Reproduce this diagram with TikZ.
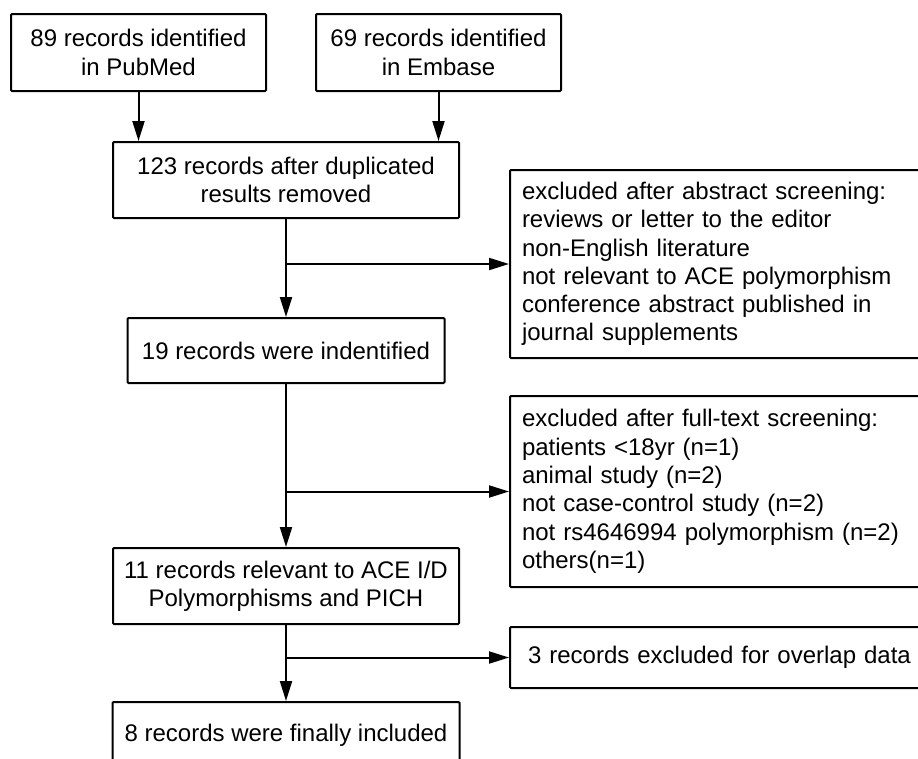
\documentclass[tikz,border=0pt]{standalone}
\usepackage{fontspec}
\setmainfont{Liberation Sans}
\usetikzlibrary{arrows.meta}
\begin{document}
\begin{tikzpicture}[x=1pt,y=-1pt,
  every node/.style={font=\fontsize{24}{28.3}\selectfont},
  cbox/.style={draw, line width=2pt, rounded corners=1pt, align=center, inner sep=0pt},
  lbox/.style={draw, line width=2pt, rounded corners=1pt, align=left, anchor=west,
    inner xsep=12pt, inner ysep=0pt, text width=396pt, minimum width=420pt},
  conn/.style={line width=2pt},
  arr/.style={line width=2pt, -{Triangle[length=20pt,width=12pt]}}]
\clip (0,0) rectangle (918,758);
\node[cbox, minimum width=255pt, minimum height=77pt] (pub) at (138.5,52.5)
  {89 records identified\\in PubMed};
\node[cbox, minimum width=245pt, minimum height=77pt] (emb) at (438.5,52.5)
  {69 records identified\\in Embase};
\node[cbox, minimum width=346pt, minimum height=76pt] (dup) at (286,180)
  {123 records after duplicated\\results removed};
\node[lbox, minimum height=188pt] (abs) at (509,264)
  {excluded after abstract screening:\\reviews or letter to the editor\\non-English literature\\not relevant to ACE polymorphism\\conference abstract published in\\journal supplements};
\node[cbox, minimum width=317pt, minimum height=65pt] (n19) at (286,350.5)
  {19 records were indentified};
\node[lbox, minimum height=191pt] (full) at (509,491.5)
  {excluded after full-text screening:\\patients <18yr (n=1)\\animal study (n=2)\\not case-control study (n=2)\\not rs4646994 polymorphism (n=2)\\others(n=1)};
\node[lbox, minimum height=61pt, inner xsep=18pt, text width=430pt] (ovl) at (509,657.5)
  {3 records excluded for overlap data};
\node[cbox, minimum width=346pt, minimum height=76pt] (n11) at (286,586)
  {11 records relevant to ACE I/D\\Polymorphisms and PICH};
\node[cbox, minimum width=347pt, minimum height=66pt] (n8) at (286,735)
  {8 records were finally included};
\draw[arr] (pub.south) -- (pub.south |- dup.north);
\draw[arr] (emb.south) -- (emb.south |- dup.north);
\draw[arr] (dup.south) -- (n19.north);
\coordinate (b1) at (dup.south |- abs.west);
\draw[arr] (b1) -- (abs.west);
\draw[arr] (n19.south) -- (n11.north);
\coordinate (b2) at (n19.south |- full.west);
\draw[arr] (b2) -- (full.west);
\draw[arr] (n11.south) -- (n8.north);
\coordinate (b3) at (n11.south |- ovl.west);
\draw[arr] (b3) -- (ovl.west);
\end{tikzpicture}
\end{document}
